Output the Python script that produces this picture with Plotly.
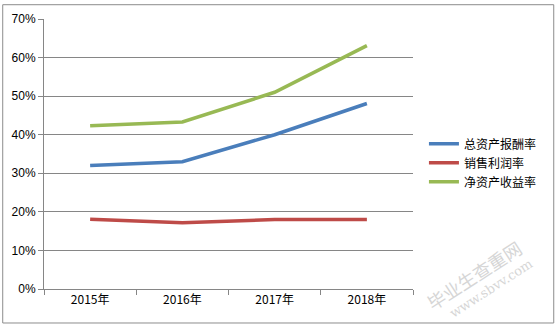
import plotly.graph_objects as go

years = ["2015年", "2016年", "2017年", "2018年"]
roa = [0.32, 0.33, 0.40, 0.481]          # 总资产报酬率
net_margin = [0.181, 0.172, 0.18, 0.18]  # 销售利润率
roe = [0.423, 0.433, 0.51, 0.631]        # 净资产收益率

series = [
    ("总资产报酬率", roa, "#4a7ebb"),
    ("销售利润率", net_margin, "#be4b48"),
    ("净资产收益率", roe, "#98b954"),
]

W, H = 556, 325
L, R, T, B = 42, 413, 15, 289
pw, ph = R - L, B - T

fig = go.Figure()
for name, vals, color in series:
    fig.add_trace(go.Scatter(
        x=years, y=vals, name=name, mode="lines",
        line=dict(color=color, width=3.5),
    ))

grid = "#868686"
fig.update_layout(
    width=W, height=H,
    margin=dict(l=L, r=W - R, t=T, b=H - B),
    paper_bgcolor="white", plot_bgcolor="white",
    font=dict(family="Liberation Sans, Arial, sans-serif", size=12, color="black"),
    showlegend=True,
    legend=dict(
        x=(424 - L) / pw, y=(B - 127) / ph, xanchor="left", yanchor="top",
        font=dict(family="Noto Sans CJK SC", size=12, color="black"),
        itemwidth=30, tracegroupgap=0, bgcolor="rgba(0,0,0,0)",
    ),
    xaxis=dict(
        type="category", tickson="boundaries", ticks="outside", ticklen=5,
        tickcolor=grid, showline=True, linecolor=grid, linewidth=1,
        showgrid=False, range=[-0.5, 3.5],
        tickfont=dict(family="Noto Sans CJK SC", size=12),
    ),
    yaxis=dict(
        range=[0, 0.7], dtick=0.1, tickformat=".0%", ticks="outside", ticklen=5,
        tickcolor=grid, showline=True, linecolor=grid, linewidth=1,
        showgrid=True, gridcolor=grid, gridwidth=1, zeroline=False,
        tickfont=dict(size=12),
    ),
    shapes=[dict(
        type="rect", xref="paper", yref="paper",
        x0=(0.5 - L) / pw, x1=(W - 1.5 - L) / pw,
        y0=(B - (H - 1.5)) / ph, y1=(B - 0.5) / ph,
        line=dict(color="#8c8c8c", width=1), fillcolor="rgba(0,0,0,0)",
    )],
    annotations=[
        dict(text="毕业生查重网", xref="paper", yref="paper",
             x=(474 - L) / pw, y=(B - 275) / ph, xanchor="center", yanchor="middle",
             showarrow=False, textangle=-33,
             font=dict(family="Noto Sans CJK SC", size=18, color="#d6d6d6")),
        dict(text="www.sbvv.com", xref="paper", yref="paper",
             x=(491 - L) / pw, y=(B - 288) / ph, xanchor="center", yanchor="middle",
             showarrow=False, textangle=-33,
             font=dict(family="DejaVu Serif", size=13, color="#d6d6d6")),
    ],
)

fig.write_html("out.html")
